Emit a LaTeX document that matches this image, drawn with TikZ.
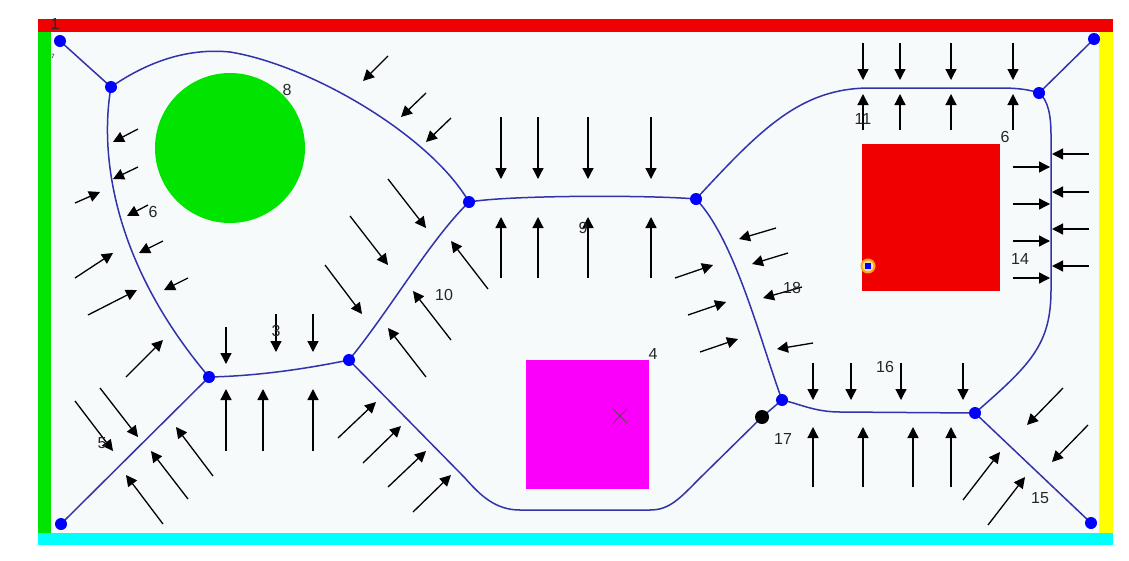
\documentclass[tikz,border=0pt]{standalone}
\usepackage{fontspec}
\setmainfont{Liberation Sans}
\usetikzlibrary{arrows.meta}
\definecolor{pathblue}{RGB}{50,50,170}
\definecolor{fieldbg}{RGB}{246,250,250}
\definecolor{wallgreen}{RGB}{0,228,0}
\definecolor{wallred}{RGB}{240,0,0}
\definecolor{wallyellow}{RGB}{255,255,0}
\definecolor{wallcyan}{RGB}{0,255,255}
\definecolor{boxmagenta}{RGB}{250,0,250}
\definecolor{ringorange}{RGB}{250,170,20}
\begin{document}
\begin{tikzpicture}[x=1pt,y=-1pt,
	dot/.style={circle,fill=blue,inner sep=0pt,minimum size=12pt},
	push/.style={-{Triangle[length=11pt,width=11pt]},line width=1.3pt},
	route/.style={pathblue,line width=1.5pt},
	lbl/.style={font=\fontsize{16}{16}\selectfont,text=black!85}]
	\useasboundingbox (0,0) rectangle (1129,560);
	\fill[white] (0,0) rectangle (1129,560);
	\fill[fieldbg] (51,32) rectangle (1099,533);
	\fill[wallgreen] (38,19) rectangle (51,545);
	\fill[wallred] (38,19) rectangle (1113,32);
	\fill[wallyellow] (1099,32) rectangle (1113,533);
	\fill[wallcyan] (38,533) rectangle (1113,545);
	\fill[wallgreen] (230,148) circle (75);
	\fill[boxmagenta] (526,360) rectangle (649,489);
	\draw[black!70!magenta,line width=0.8pt] (613,409)--(627,423) (613,423)--(627,409);
	\fill[wallred] (862,144) rectangle (1000,291);
	\coordinate (a) at (60,41);
	\coordinate (b) at (111,87);
	\coordinate (c) at (469,202);
	\coordinate (d) at (696,199);
	\coordinate (e) at (1039,93);
	\coordinate (f) at (1094,39);
	\coordinate (g) at (209,377);
	\coordinate (h) at (349,360);
	\coordinate (i) at (61,524);
	\coordinate (j) at (782,400);
	\coordinate (k) at (975,413);
	\coordinate (l) at (1091,523);
	\coordinate (blk) at (762,417);
	\draw[route] (a)--(b);
	\draw[route] (b) .. controls (150,60) and (190,48) .. (230,52) .. controls (310,65) and (430,135) .. (c);
	\draw[route] (b) .. controls (100,150) and (110,260) .. (g);
	\draw[route] (g)--(i);
	\draw[route] (g) .. controls (260,376) and (310,368) .. (h);
	\draw[route] (h) .. controls (390,310) and (430,240) .. (c);
	\draw[route] (c) .. controls (510,195) and (650,195) .. (d);
	\draw[route] (d) .. controls (760,130) and (800,88) .. (870,88) -- (1000,88) .. controls (1020,88) and (1030,90) .. (e);
	\draw[route] (e)--(f);
	\draw[route] (e) .. controls (1048,100) and (1051,115) .. (1051,135) -- (1051,290) .. controls (1051,345) and (1030,365) .. (k);
	\draw[route] (k)--(l);
	\draw[route] (k) -- (840,412) .. controls (815,412) and (800,404) .. (j);
	\draw[route] (d) .. controls (735,240) and (760,340) .. (j);
	\draw[route] (j)--(blk);
	\draw[route] (blk) -- (700,478) .. controls (680,498) and (670,510) .. (650,510) -- (520,510) .. controls (495,510) and (480,495) .. (465,478) -- (h);
	\node[dot] (na) at (a) {};
	\node[dot] (nb) at (b) {};
	\node[dot] (nc) at (c) {};
	\node[dot] (nd) at (d) {};
	\node[dot] (ne) at (e) {};
	\node[dot] (nf) at (f) {};
	\node[dot] (ng) at (g) {};
	\node[dot] (nh) at (h) {};
	\node[dot] (ni) at (i) {};
	\node[dot] (nj) at (j) {};
	\node[dot] (nk) at (k) {};
	\node[dot] (nl) at (l) {};
	\node[circle,fill=black,inner sep=0pt,minimum size=14pt] (nblk) at (blk) {};
	\node[circle,draw=ringorange,line width=2pt,fill=ringorange!40,inner sep=0pt,minimum size=13pt] (ring) at (868,266) {};
	\fill[blue] (865,263) rectangle (871,269);
	\draw[push] (138,129) -- (113,142);
	\draw[push] (138,167) -- (113,179);
	\draw[push] (75,203) -- (100,192);
	\draw[push] (148,205) -- (127,216);
	\draw[push] (163,241) -- (139,253);
	\draw[push] (75,278) -- (113,253);
	\draw[push] (188,278) -- (164,290);
	\draw[push] (88,315) -- (137,290);
	\draw[push] (126,377) -- (163,340);
	\draw[push] (75,401) -- (113,451);
	\draw[push] (100,388) -- (138,437);
	\draw[push] (213,476) -- (176,427);
	\draw[push] (188,499) -- (151,451);
	\draw[push] (163,524) -- (126,475);
	\draw[push] (226,327) -- (226,364);
	\draw[push] (276,314) -- (276,352);
	\draw[push] (313,314) -- (313,352);
	\draw[push] (226,451) -- (226,389);
	\draw[push] (263,451) -- (263,389);
	\draw[push] (313,451) -- (313,389);
	\draw[push] (388,56) -- (363,81);
	\draw[push] (426,93) -- (401,117);
	\draw[push] (451,118) -- (426,142);
	\draw[push] (388,179) -- (426,228);
	\draw[push] (350,216) -- (388,265);
	\draw[push] (325,265) -- (362,314);
	\draw[push] (488,289) -- (451,241);
	\draw[push] (451,340) -- (413,291);
	\draw[push] (426,377) -- (388,328);
	\draw[push] (338,438) -- (376,402);
	\draw[push] (363,463) -- (401,426);
	\draw[push] (388,487) -- (426,451);
	\draw[push] (413,512) -- (451,475);
	\draw[push] (501,117) -- (501,179);
	\draw[push] (538,117) -- (538,179);
	\draw[push] (588,117) -- (588,179);
	\draw[push] (651,117) -- (651,179);
	\draw[push] (501,278) -- (501,217);
	\draw[push] (538,278) -- (538,217);
	\draw[push] (588,278) -- (588,217);
	\draw[push] (651,278) -- (651,217);
	\draw[push] (675,278) -- (713,265);
	\draw[push] (688,315) -- (726,302);
	\draw[push] (700,352) -- (738,339);
	\draw[push] (776,228) -- (739,239);
	\draw[push] (788,253) -- (752,264);
	\draw[push] (802,287) -- (763,298);
	\draw[push] (813,343) -- (777,349);
	\draw[push] (863,43) -- (863,80);
	\draw[push] (900,43) -- (900,80);
	\draw[push] (951,43) -- (951,80);
	\draw[push] (1013,43) -- (1013,80);
	\draw[push] (863,130) -- (863,94);
	\draw[push] (900,130) -- (900,94);
	\draw[push] (951,130) -- (951,94);
	\draw[push] (1013,130) -- (1013,94);
	\draw[push] (1089,154) -- (1052,154);
	\draw[push] (1089,192) -- (1052,192);
	\draw[push] (1089,229) -- (1052,229);
	\draw[push] (1089,266) -- (1052,266);
	\draw[push] (1013,167) -- (1050,167);
	\draw[push] (1013,204) -- (1050,204);
	\draw[push] (1013,241) -- (1050,241);
	\draw[push] (1013,278) -- (1050,278);
	\draw[push] (813,363) -- (813,400);
	\draw[push] (851,363) -- (851,400);
	\draw[push] (901,363) -- (901,400);
	\draw[push] (963,363) -- (963,400);
	\draw[push] (813,487) -- (813,427);
	\draw[push] (863,487) -- (863,427);
	\draw[push] (913,487) -- (913,427);
	\draw[push] (951,487) -- (951,427);
	\draw[push] (1063,388) -- (1027,425);
	\draw[push] (1088,425) -- (1052,462);
	\draw[push] (963,500) -- (1000,452);
	\draw[push] (988,525) -- (1025,477);
	\node[lbl] (t1) at (55,24) {1};
	\node[font=\fontsize{6}{6}\selectfont] (t7) at (53,56) {7};
	\node[lbl] (t8) at (287,90) {8};
	\node[lbl] (t6a) at (153,212) {6};
	\node[lbl] (t3) at (276,331) {3};
	\node[lbl] (t5) at (102,443) {5};
	\node[lbl] (t10) at (444,295) {10};
	\node[lbl] (t9) at (583,228) {9};
	\node[lbl] (t4) at (653,354) {4};
	\node[lbl] (t18) at (792,288) {18};
	\node[lbl] (t17) at (783,439) {17};
	\node[lbl] (t16) at (885,367) {16};
	\node[lbl] (t15) at (1040,498) {15};
	\node[lbl] (t11) at (863,119) {11};
	\node[lbl] (t6b) at (1005,137) {6};
	\node[lbl] (t14) at (1020,259) {14};
\end{tikzpicture}
\end{document}
